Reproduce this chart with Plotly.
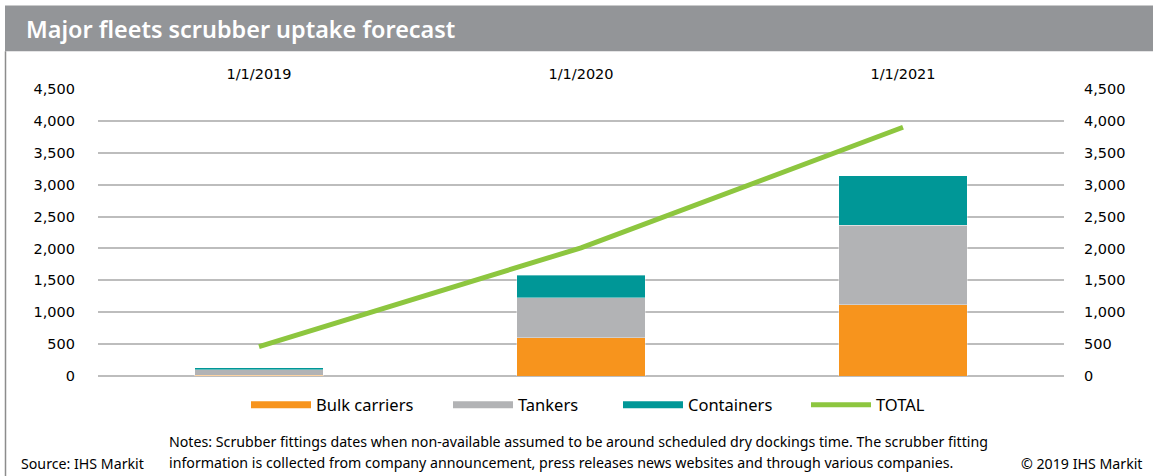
import plotly.graph_objects as go

# ---- data ----
dates = ["1/1/2019", "1/1/2020", "1/1/2021"]
bulk_carriers = [15, 600, 1120]
tankers = [85, 625, 1240]
containers = [30, 355, 776]
total = [460, 2010, 3900]
y_ticks = [0, 500, 1000, 1500, 2000, 2500, 3000, 3500, 4000, 4500]

# ---- style ----
C_BULK = "#F7941D"
C_TANK = "#B2B3B5"
C_CONT = "#009797"
C_TOT = "#8DC63F"
W, H = 1153, 476
L, R, T, B = 98, 1064, 88.7, 376

def px(x):
    return (x - L) / (R - L)

def py(y):
    return (B - y) / (B - T)

fig = go.Figure()
for name, vals, col in [("Bulk carriers", bulk_carriers, C_BULK),
                        ("Tankers", tankers, C_TANK),
                        ("Containers", containers, C_CONT)]:
    fig.add_trace(go.Bar(x=dates, y=vals, name=name, marker=dict(color=col, line=dict(width=0.6, color="rgba(255,255,255,0.6)")),
                         showlegend=False, yaxis="y"))
fig.add_trace(go.Scatter(x=dates, y=total, name="TOTAL", mode="lines",
                         line=dict(color=C_TOT, width=5), showlegend=False, yaxis="y2"))

# legend entries drawn as line swatches
for name, col, w, lw in [("Bulk carriers", C_BULK, 7, 127), ("Tankers", C_TANK, 7, 95),
                         ("Containers", C_CONT, 7, 113), ("TOTAL", C_TOT, 5, 60)]:
    fig.add_trace(go.Scatter(x=[None], y=[None], mode="lines", name=name, legendwidth=lw,
                             line=dict(color=col, width=w), showlegend=True, yaxis="y"))

tick_font = dict(family="DejaVu Sans", size=14.5, color="#000000")
text_font = "Noto Sans, sans-serif"

fig.update_layout(
    width=W, height=H,
    margin=dict(l=L, r=W - R, t=T, b=H - B),
    paper_bgcolor="white", plot_bgcolor="white",
    barmode="stack", bargap=0.6,
    xaxis=dict(side="top", type="category", tickfont=tick_font, showgrid=False,
               showline=False, ticks="", ticklabelstandoff=6),
    yaxis=dict(range=[0, 4500], tickvals=y_ticks, tickformat=",d", tickfont=tick_font,
               showgrid=True, gridcolor="#BDBDBD", gridwidth=1.5, zeroline=True,
               zerolinecolor="#BDBDBD", zerolinewidth=1.5, ticks="", ticklabelstandoff=22,
               showline=False),
    yaxis2=dict(range=[0, 4500], tickvals=y_ticks, tickformat=",d", tickfont=tick_font,
                overlaying="y", side="right", showgrid=False, zeroline=False, ticks="",
                ticklabelstandoff=19, showline=False),
    legend=dict(orientation="h", x=px(246), xanchor="left", y=py(405), yanchor="middle",
                font=dict(family=text_font, size=16.5, color="#000000"), itemwidth=60,
                traceorder="normal", bgcolor="rgba(0,0,0,0)"),
    showlegend=True,
)

shapes = [
    dict(type="rect", xref="paper", yref="paper", x0=px(5), x1=px(W + 5), y0=py(51), y1=py(5),
         fillcolor="#939598", line=dict(width=0), layer="below"),
    dict(type="line", xref="paper", yref="paper", x0=px(5.5), x1=px(5.5), y0=py(51), y1=py(H + 5),
         line=dict(color="#8C8C8C", width=1.5)),
]
fig.update_layout(shapes=shapes)

foot = 14.2
ann = [
    dict(text="Major fleets scrubber uptake forecast", x=px(24), y=py(29), xanchor="left", yanchor="middle",
         font=dict(family=text_font, size=23.4, color="white", weight=600)),
    dict(text="Source: IHS Markit", x=px(19), y=py(464), xanchor="left", yanchor="middle",
         font=dict(family=text_font, size=foot, color="#000000")),
    dict(text="Notes: Scrubber fittings dates when non-available assumed to be around scheduled dry dockings time. The scrubber fitting",
         x=px(167), y=py(442), xanchor="left", yanchor="middle",
         font=dict(family=text_font, size=foot, color="#000000")),
    dict(text="information is collected from company announcement, press releases news websites and through various companies.",
         x=px(167), y=py(463), xanchor="left", yanchor="middle",
         font=dict(family=text_font, size=foot, color="#000000")),
    dict(text="© 2019 IHS Markit", x=px(1145), y=py(464), xanchor="right", yanchor="middle",
         font=dict(family=text_font, size=foot, color="#000000")),
]
for a in ann:
    a.update(xref="paper", yref="paper", showarrow=False)
fig.update_layout(annotations=ann)

fig.write_html("out.html")
